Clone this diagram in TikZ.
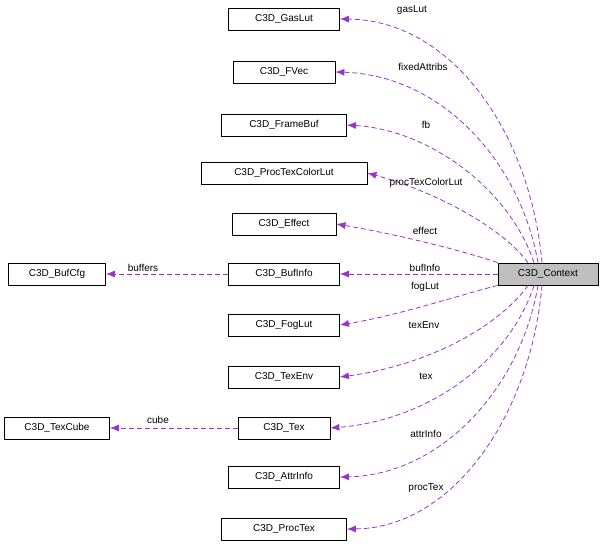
\documentclass[tikz,border=0pt]{standalone}
\usepackage{fontspec}
\setmainfont{Liberation Sans}
\usetikzlibrary{arrows.meta}
\definecolor{edgecol}{HTML}{9A32CD}
\tikzset{
  cls/.style={draw, line width=0.8pt, fill=white, font=\fontsize{10}{12}\selectfont, minimum height=22pt, inner xsep=5pt},
  dep/.style={draw=edgecol, line width=0.8pt, dash pattern=on 5pt off 3pt, -{Latex[length=9pt,width=7pt]}},
  lbl/.style={font=\fontsize{10}{12}\selectfont}
}
\begin{document}
\begin{tikzpicture}[x=1pt, y=-1pt]
    \useasboundingbox (0,0) rectangle (603,548);
    \path (548, 274) node[cls, fill=black!25, minimum width=100pt] (ctx)     {C3D\_Context};
    \path (284, 19)  node[cls, minimum width=111pt] (gas)     {C3D\_GasLut};
    \path (284, 72)  node[cls, minimum width=102pt] (fvec)    {C3D\_FVec};
    \path (284, 125) node[cls, minimum width=125pt] (fbuf)    {C3D\_FrameBuf};
    \path (284, 173) node[cls, minimum width=166pt] (ptcl)    {C3D\_ProcTexColorLut};
    \path (284, 224) node[cls, minimum width=104pt] (eff)     {C3D\_Effect};
    \path (284, 274) node[cls, minimum width=111pt] (binfo)   {C3D\_BufInfo};
    \path (57, 274)  node[cls, minimum width=97pt]  (bcfg)    {C3D\_BufCfg};
    \path (284, 325) node[cls, minimum width=111pt] (fog)     {C3D\_FogLut};
    \path (284, 377) node[cls, minimum width=111pt] (tenv)    {C3D\_TexEnv};
    \path (284, 428) node[cls, minimum width=92pt]  (tex)     {C3D\_Tex};
    \path (57, 428)  node[cls, minimum width=105pt] (tcube)   {C3D\_TexCube};
    \path (284, 477) node[cls, minimum width=111pt] (ainfo)   {C3D\_AttrInfo};
    \path (284, 529) node[cls, minimum width=125pt] (ptex)    {C3D\_ProcTex};

    % members of the context
    \draw[dep] (ctx.north) ++(-6,0) coordinate (c1) .. controls (530,130) and (450,20) .. (gas.east);
    \draw[dep] (ctx.north) ++(-10,0) coordinate (c2) .. controls (520,160) and (440,75) .. (fvec.east);
    \draw[dep] (ctx.north) ++(-14,0) coordinate (c3) .. controls (510,190) and (430,130) .. (fbuf.east);
    \draw[dep] (ctx.north) ++(-20,0) coordinate (c4) .. controls (500,225) and (430,190) .. (ptcl.east);
    \draw[dep] (ctx.north west) .. controls (460,250) and (400,235) .. (eff.east);
    \draw[dep] (ctx.west) -- (binfo.east);
    \draw[dep] (ctx.south west) .. controls (460,295) and (400,315) .. (fog.east);
    \draw[dep] (ctx.south) ++(-20,0) coordinate (c5) .. controls (500,325) and (430,365) .. (tenv.east);
    \draw[dep] (ctx.south) ++(-14,0) coordinate (c6) .. controls (510,360) and (430,420) .. (tex.east);
    \draw[dep] (ctx.south) ++(-10,0) coordinate (c7) .. controls (520,390) and (440,475) .. (ainfo.east);
    \draw[dep] (ctx.south) ++(-6,0) coordinate (c8) .. controls (530,420) and (450,528) .. (ptex.east);
    \draw[dep] (binfo) -- (bcfg);
    \draw[dep] (tex) -- (tcube);

    \path (412, 10)  node[lbl] (lgas)   {gasLut};
    \path (423, 67)  node[lbl] (lfvec)  {fixedAttribs};
    \path (426, 125) node[lbl] (lfb)    {fb};
    \path (426, 183) node[lbl] (lptcl)  {procTexColorLut};
    \path (425, 231) node[lbl] (leff)   {effect};
    \path (425, 268) node[lbl] (lbinfo) {bufInfo};
    \path (425, 287) node[lbl] (lfog)   {fogLut};
    \path (424, 325) node[lbl] (ltenv)  {texEnv};
    \path (426, 376) node[lbl] (ltex)   {tex};
    \path (426, 434) node[lbl] (lainfo) {attrInfo};
    \path (426, 488) node[lbl] (lptex)  {procTex};
    \path (143, 268) node[lbl] (lbuf)   {buffers};
    \path (158, 420) node[lbl] (lcube)  {cube};
\end{tikzpicture}
\end{document}
